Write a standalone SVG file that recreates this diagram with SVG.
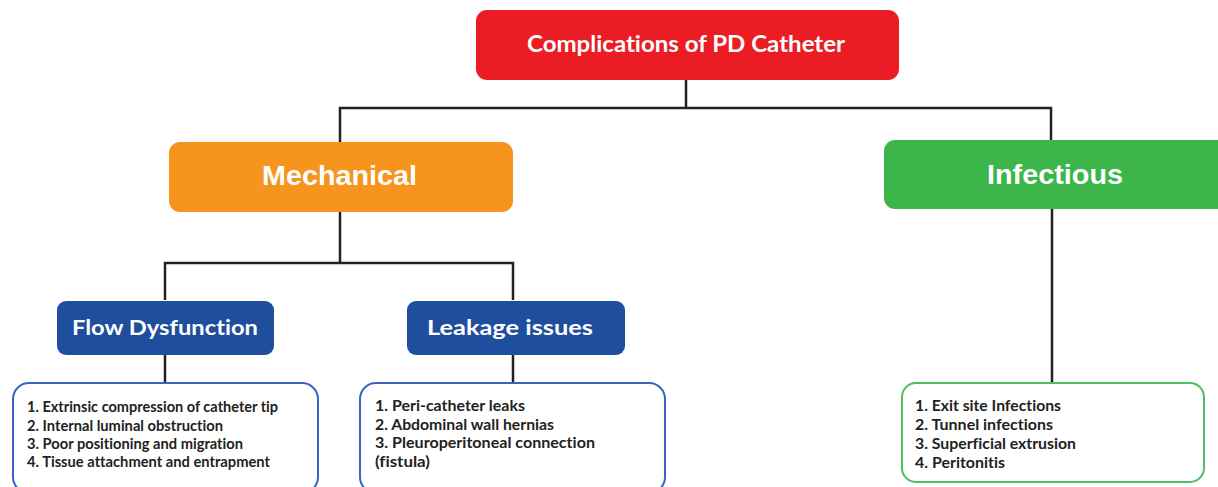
<svg xmlns="http://www.w3.org/2000/svg" width="1218" height="487" viewBox="0 0 1218 487">
<style>
text{font-variant-ligatures:none}
.ln{fill:none;stroke:#222;stroke-width:2.5;stroke-linejoin:miter}
.t1{font-family:Lato,"Open Sans",sans-serif;font-weight:bold;fill:#fff}
.t2{font-family:"Liberation Sans",Arial,sans-serif;font-weight:bold;fill:#fff;font-size:28px}
.li{font-family:Lato,"Open Sans",sans-serif;font-weight:bold;fill:#222;font-size:14.5px}
</style>
<rect width="1218" height="487" fill="#fff"/>
<g id="connectors">
<path class="ln" d="M686 80V108M340 143V108H1051V140"/>
<path class="ln" d="M340 212V263M165 300V263H513V300"/>
<path class="ln" d="M165 355V383M513 355V383M1052 209V383"/>
</g>
<g id="root">
<rect x="476" y="10" width="423" height="70" rx="11" fill="#ec1c24"/>
<text class="t1" x="527" y="52" font-size="22.5" textLength="318" lengthAdjust="spacingAndGlyphs">Complications of PD Catheter</text>
</g>
<g id="mechanical">
<rect x="169" y="142" width="344" height="70" rx="11" fill="#f7941d"/>
<text class="t2" x="262" y="185" textLength="155" lengthAdjust="spacingAndGlyphs">Mechanical</text>
</g>
<g id="infectious">
<rect x="884" y="140" width="345" height="69" rx="11" fill="#3cb54a"/>
<text class="t2" x="987" y="184" textLength="136" lengthAdjust="spacingAndGlyphs">Infectious</text>
</g>
<g id="flow">
<rect x="57" y="301" width="217" height="54" rx="9" fill="#1f4e9e"/>
<text class="t1" x="72" y="335" font-size="20" textLength="186" lengthAdjust="spacingAndGlyphs">Flow Dysfunction</text>
</g>
<g id="leakage">
<rect x="407" y="301" width="218" height="54" rx="9" fill="#1f4e9e"/>
<text class="t1" x="427" y="335" font-size="20" textLength="166" lengthAdjust="spacingAndGlyphs">Leakage issues</text>
</g>
<g id="flow-list">
<rect x="13" y="383" width="305" height="110" rx="16" fill="#fff" stroke="#3a63c4" stroke-width="2"/>
<text class="li" x="27" y="412" textLength="251" lengthAdjust="spacingAndGlyphs">1. Extrinsic compression of catheter tip</text>
<text class="li" x="27" y="431" textLength="196" lengthAdjust="spacingAndGlyphs">2. Internal luminal obstruction</text>
<text class="li" x="27" y="449" textLength="216" lengthAdjust="spacingAndGlyphs">3. Poor positioning and migration</text>
<text class="li" x="27" y="467" textLength="243" lengthAdjust="spacingAndGlyphs">4. Tissue attachment and entrapment</text>
</g>
<g id="leakage-list">
<rect x="360" y="383" width="305" height="110" rx="16" fill="#fff" stroke="#3a63c4" stroke-width="2"/>
<text class="li" x="375" y="411" textLength="150" lengthAdjust="spacingAndGlyphs">1. Peri-catheter leaks</text>
<text class="li" x="375" y="430" textLength="179" lengthAdjust="spacingAndGlyphs">2. Abdominal wall hernias</text>
<text class="li" x="375" y="448" textLength="220" lengthAdjust="spacingAndGlyphs">3. Pleuroperitoneal connection</text>
<text class="li" x="375" y="467" textLength="55" lengthAdjust="spacingAndGlyphs">(fistula)</text>
</g>
<g id="infectious-list">
<rect x="902" y="383" width="302" height="99" rx="14" fill="#fff" stroke="#4cc05a" stroke-width="2"/>
<text class="li" x="915" y="411" textLength="146" lengthAdjust="spacingAndGlyphs">1. Exit site Infections</text>
<text class="li" x="915" y="430" textLength="138" lengthAdjust="spacingAndGlyphs">2. Tunnel infections</text>
<text class="li" x="915" y="449" textLength="161" lengthAdjust="spacingAndGlyphs">3. Superficial extrusion</text>
<text class="li" x="915" y="468" textLength="90" lengthAdjust="spacingAndGlyphs">4. Peritonitis</text>
</g>
</svg>
